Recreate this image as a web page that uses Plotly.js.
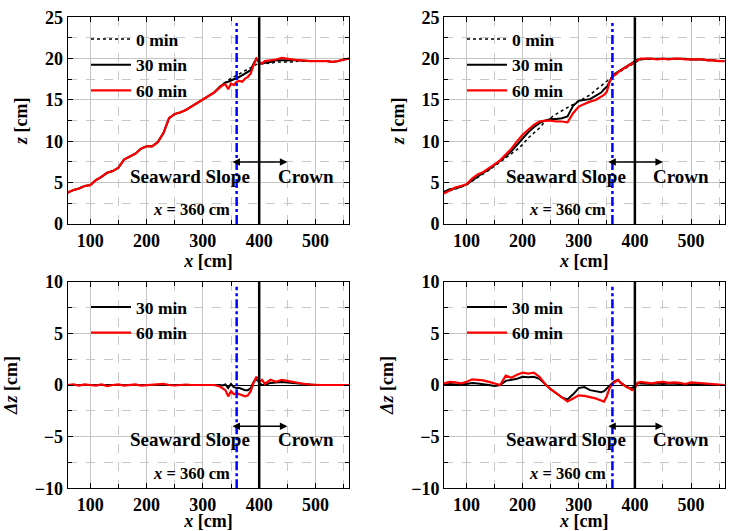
<!DOCTYPE html>
<html>
<head>
<meta charset="utf-8">
<script src="https://cdn.plot.ly/plotly-3.0.1.min.js"></script>
</head>
<body style="margin:0">
<div id="chart" style="width:736px;height:531px"></div>
<script>
// x positions of the profile samples [cm]
const xs = [60,70,80,90,100,110,120,130,140,150,160,170,180,190,200,210,220,230,240,250,260,270,280,290,300,310,320,330,
  335,340,345,350,355,360,365,370,375,380,385,390,395,400,405,410,
  420,430,440,450,460,470,480,490,500,510,520,530,540,550,560];

// Left case: elevation z [cm]
const zL_0 = [3.8,4.1,4.3,4.6,4.7,5.3,5.7,6.2,6.4,6.8,7.8,8.2,8.5,9.1,9.4,9.4,9.9,11.0,12.8,13.3,13.5,13.8,14.2,14.6,15.0,15.4,15.9,16.6,
  16.9,17.2,17.4,17.6,17.8,18.0,18.2,18.4,18.6,18.8,18.9,19.1,19.3,19.4,19.4,19.5,
  19.4,19.6,19.6,19.6,19.6,19.7,19.7,19.7,19.7,19.7,19.7,19.6,19.7,19.9,20.0];
const zL_30 = [3.8,4.1,4.3,4.6,4.7,5.3,5.7,6.2,6.4,6.8,7.8,8.2,8.5,9.1,9.4,9.4,9.9,11.0,12.8,13.3,13.5,13.8,14.2,14.6,15.0,15.4,15.9,16.6,
  16.9,17.1,17.2,17.4,17.5,17.6,17.8,18.0,18.2,18.4,18.6,19.4,20.0,19.5,19.4,19.5,
  19.6,19.8,19.8,19.8,19.8,19.8,19.7,19.7,19.7,19.7,19.7,19.6,19.7,19.9,20.0];
const zL_60 = [3.8,4.1,4.3,4.6,4.7,5.3,5.7,6.2,6.4,6.8,7.8,8.2,8.5,9.1,9.4,9.4,9.9,11.0,12.8,13.3,13.5,13.8,14.2,14.6,15.0,15.4,15.9,16.5,
  16.8,16.9,16.3,17.0,16.8,17.2,17.3,17.2,17.6,17.8,18.2,19.2,20.0,19.6,19.4,19.7,
  19.8,19.9,20.1,20.0,19.9,19.8,19.8,19.7,19.7,19.7,19.7,19.6,19.7,19.9,20.0];
// Left case: change dz [cm]
const dzL_30 = [0,0,0.05,0,0,0,0,0,0,0,0,0,0,0,0,0,0,0,0,0,0,0,0,0,0,0,0,0,
  -0.05,0.05,-0.3,0.1,-0.2,-0.3,-0.3,-0.4,-0.5,-0.5,-0.3,0.3,0.65,0.2,0.0,0.0,
  0.2,0.25,0.3,0.25,0.2,0.1,0.05,0,0,0,0,0,0,0,0];
const dzL_60 = [0,0.05,-0.05,0.05,0,-0.05,0.05,-0.1,0,0.05,-0.05,0,0.05,-0.05,0,0.05,0.05,0.1,0,-0.05,0,0.05,0,0,0.05,0,0,-0.15,
  -0.3,-0.5,-1.1,-0.6,-0.9,-0.8,-0.9,-1.0,-1.1,-1.0,-0.6,0.2,0.8,0.3,0.5,0.1,
  0.5,0.3,0.5,0.4,0.3,0.15,0.1,0.05,0,0,0,0,0,0,0];

// Right case: elevation z [cm]
const zR_0 = [3.8,4.0,4.2,4.5,4.7,5.2,5.6,6.1,6.5,7.0,7.5,7.9,8.4,9.0,9.6,10.4,11.0,11.6,12.4,12.9,13.3,13.7,14.1,14.5,14.9,15.3,15.6,16.2,
  16.4,16.7,17.0,17.3,17.5,17.8,18.0,18.3,18.5,18.7,18.9,19.1,19.3,19.6,19.8,19.9,
  20.0,20.0,20.0,20.0,20.0,20.0,20.0,20.0,19.9,19.9,19.9,19.8,19.8,19.7,19.7];
const zR_30 = [3.9,4.2,4.3,4.5,4.8,5.3,5.8,6.2,6.6,7.1,7.6,8.2,8.8,9.6,10.4,11.1,11.7,12.2,12.5,12.7,12.7,12.8,13.0,14.3,14.9,15.0,15.1,15.5,
  15.7,15.9,16.3,16.6,17.2,17.9,18.2,18.4,18.6,18.8,19.0,19.3,19.5,19.7,19.9,19.9,
  20.0,20.0,20.0,20.0,20.0,20.0,20.0,20.0,19.9,19.9,19.9,19.8,19.8,19.7,19.7];
const zR_60 = [3.7,4.1,4.4,4.6,4.8,5.5,6.0,6.3,6.7,7.2,7.7,8.4,9.1,10.0,10.8,11.4,12.0,12.4,12.5,12.5,12.4,12.4,12.3,13.4,14.2,14.5,14.8,15.0,
  15.2,15.4,15.6,16.0,17.2,17.8,18.1,18.4,18.6,18.8,19.0,19.2,19.5,19.7,19.9,20.0,
  20.0,20.0,19.9,20.0,19.9,20.0,20.0,19.9,19.9,19.9,19.9,19.8,19.8,19.7,19.7];
// Right case: change dz [cm]
const dzR_30 = [0.0,0.1,0.05,0.0,0.1,0.2,0.15,0.1,0.0,-0.1,0.0,0.4,0.5,0.6,0.8,0.75,0.8,0.6,0.1,-0.4,-0.8,-1.2,-1.4,-0.9,-0.3,-0.2,-0.5,-0.6,
  -0.65,-0.7,-0.6,-0.3,0.0,0.2,0.4,0.5,0.2,0.0,-0.15,-0.3,-0.3,-0.1,0.2,0.15,
  0.1,0.1,0.15,0.1,0.15,0.1,0.1,0.1,0.1,0.05,0.05,0.0,0.0,0.0,0.0];
const dzR_60 = [0.15,0.3,0.25,0.15,0.3,0.55,0.5,0.45,0.3,0.15,0.0,0.9,0.7,1.0,1.2,1.1,1.2,0.8,0.1,-0.4,-0.8,-1.2,-1.6,-1.3,-1.0,-1.05,-1.15,-1.3,
  -1.4,-1.5,-1.6,-1.1,-0.3,0.1,0.3,0.5,0.2,0.0,-0.2,-0.3,-0.5,-0.3,0.2,0.3,
  0.2,0.15,0.25,0.3,0.2,0.25,0.2,0.1,0.25,0.2,0.15,0.1,0.05,0.05,0.0];

const seriesNames = ['0 min','30 min','60 min'];
const xTicks = [100,200,300,400,500];
const zTicks = [0,5,10,15,20,25];
const dzTicks = [-10,-5,0,5,10];

function mkFont(s) { return {family: 'Liberation Serif', size: s, weight: 'bold', color: 'black'}; }

const styles = {
  '0 min':  {color: 'black', width: 1.5, dash: 'dot'},
  '30 min': {color: 'black', width: 2, dash: 'solid'},
  '60 min': {color: 'red', width: 2.2, dash: 'solid'}
};

function tr(y, name, xa, ya, leg) {
  return {x: xs, y: y, name: name, type: 'scatter', mode: 'lines',
    xaxis: xa, yaxis: ya, legend: leg, line: styles[name]};
}

const traces = [
  tr(zL_0, seriesNames[0], 'x', 'y', 'legend'),
  tr(zL_30, seriesNames[1], 'x', 'y', 'legend'),
  tr(zL_60, seriesNames[2], 'x', 'y', 'legend'),
  tr(zR_0, seriesNames[0], 'x2', 'y2', 'legend2'),
  tr(zR_30, seriesNames[1], 'x2', 'y2', 'legend2'),
  tr(zR_60, seriesNames[2], 'x2', 'y2', 'legend2'),
  tr(dzL_30, seriesNames[1], 'x3', 'y3', 'legend3'),
  tr(dzL_60, seriesNames[2], 'x3', 'y3', 'legend3'),
  tr(dzR_30, seriesNames[1], 'x4', 'y4', 'legend4'),
  tr(dzR_60, seriesNames[2], 'x4', 'y4', 'legend4')
];

const W = 736, H = 531;
const dL = [67.7/W, 349.3/W], dR = [444/W, 724.7/W];
const dT = [1-224/H, 1-17.3/H], dB = [1-488.3/H, 1-281.7/H];

function xax(dom, anchor) {
  return {domain: dom, anchor: anchor, range: [60,560], tickvals: xTicks,
    showgrid: true, gridcolor: '#c4c4c4', gridwidth: 1,
    minor: {dtick: 50, tick0: 0, showgrid: true, gridcolor: '#c8c8c8', griddash: 'dash', ticks: 'inside', ticklen: 4, tickcolor: 'black'},
    ticks: 'inside', ticklen: 5, tickcolor: 'black', showline: true, linecolor: 'black', linewidth: 1, mirror: 'allticks',
    zeroline: false, tickfont: mkFont(18),
    title: {text: '<i>x</i> [cm]', font: mkFont(18), standoff: 0}};
}
function yax(dom, anchor, rng, ticks, dt, title, zl) {
  return {domain: dom, anchor: anchor, range: rng, tickvals: ticks,
    showgrid: true, gridcolor: '#c4c4c4', gridwidth: 1,
    minor: {dtick: dt, tick0: 0, showgrid: true, gridcolor: '#c8c8c8', griddash: 'dash', ticks: 'inside', ticklen: 4, tickcolor: 'black'},
    ticks: 'inside', ticklen: 5, tickcolor: 'black', showline: true, linecolor: 'black', linewidth: 1, mirror: 'allticks',
    zeroline: zl, zerolinecolor: 'black', zerolinewidth: 1, tickfont: mkFont(18),
    title: {text: title, font: mkFont(18), standoff: 12}};
}

const shapes = [];
const annotations = [];
const panels = [
  {xr: 'x', yr: 'y', top: true}, {xr: 'x2', yr: 'y2', top: true},
  {xr: 'x3', yr: 'y3', top: false}, {xr: 'x4', yr: 'y4', top: false}
];
panels.forEach(p => {
  const y0 = p.top ? 0 : -10, y1 = p.top ? 25 : 10;
  const yBlue = p.top ? 24.3 : 9.5;
  shapes.push({type: 'line', xref: p.xr, yref: p.yr, x0: 400, x1: 400, y0: y0, y1: y1, line: {color: 'black', width: 2.5}});
  shapes.push({type: 'line', xref: p.xr, yref: p.yr, x0: 360, x1: 360, y0: y0, y1: yBlue, line: {color: '#0000ff', width: 2.5, dash: 'dashdot'}});
  const ya = p.top ? 7.5 : -4;
  annotations.push({xref: p.xr, yref: p.yr, axref: p.xr, ayref: p.yr, x: 450, y: ya, ax: 350, ay: ya,
    text: '', showarrow: true, arrowhead: 2, startarrowhead: 2, arrowside: 'end+start', arrowwidth: 1.5, arrowcolor: 'black', arrowsize: 1, startarrowsize: 1});
  const yt = p.top ? 5.8 : -5.3, yx = p.top ? 1.8 : -8.55;
  annotations.push({xref: p.xr, yref: p.yr, x: 277, y: yt, text: 'Seaward Slope', showarrow: false, font: mkFont(19)});
  annotations.push({xref: p.xr, yref: p.yr, x: 483, y: yt, text: 'Crown', showarrow: false, font: mkFont(19)});
  annotations.push({xref: p.xr, yref: p.yr, x: 280, y: yx, text: '<i>x</i> = 360 cm', showarrow: false, font: mkFont(16.5)});
});

function leg(xpx, ypx) {
  return {x: xpx/W, y: 1-ypx/H, xanchor: 'left', yanchor: 'top', bgcolor: 'rgba(0,0,0,0)', borderwidth: 0,
    font: mkFont(17.5), itemwidth: 40, tracegroupgap: 0};
}

const layout = {
  width: W, height: H, margin: {l: 0, r: 0, t: 0, b: 0},
  paper_bgcolor: 'white', plot_bgcolor: 'white', showlegend: true,
  xaxis: xax(dL, 'y'), yaxis: yax(dT, 'x', [0,25], zTicks, 2.5, '<i>z</i> [cm]', false),
  xaxis2: xax(dR, 'y2'), yaxis2: yax(dT, 'x2', [0,25], zTicks, 2.5, '<i>z</i> [cm]', false),
  xaxis3: xax(dL, 'y3'), yaxis3: yax(dB, 'x3', [-10,10], dzTicks, 2.5, '<i>Δz</i> [cm]', true),
  xaxis4: xax(dR, 'y4'), yaxis4: yax(dB, 'x4', [-10,10], dzTicks, 2.5, '<i>Δz</i> [cm]', true),
  legend: leg(86, 21), legend2: leg(462, 21), legend3: leg(86, 289), legend4: leg(462, 289),
  shapes: shapes, annotations: annotations
};

Plotly.newPlot('chart', traces, layout, {displayModeBar: false});
</script>
</body>
</html>
